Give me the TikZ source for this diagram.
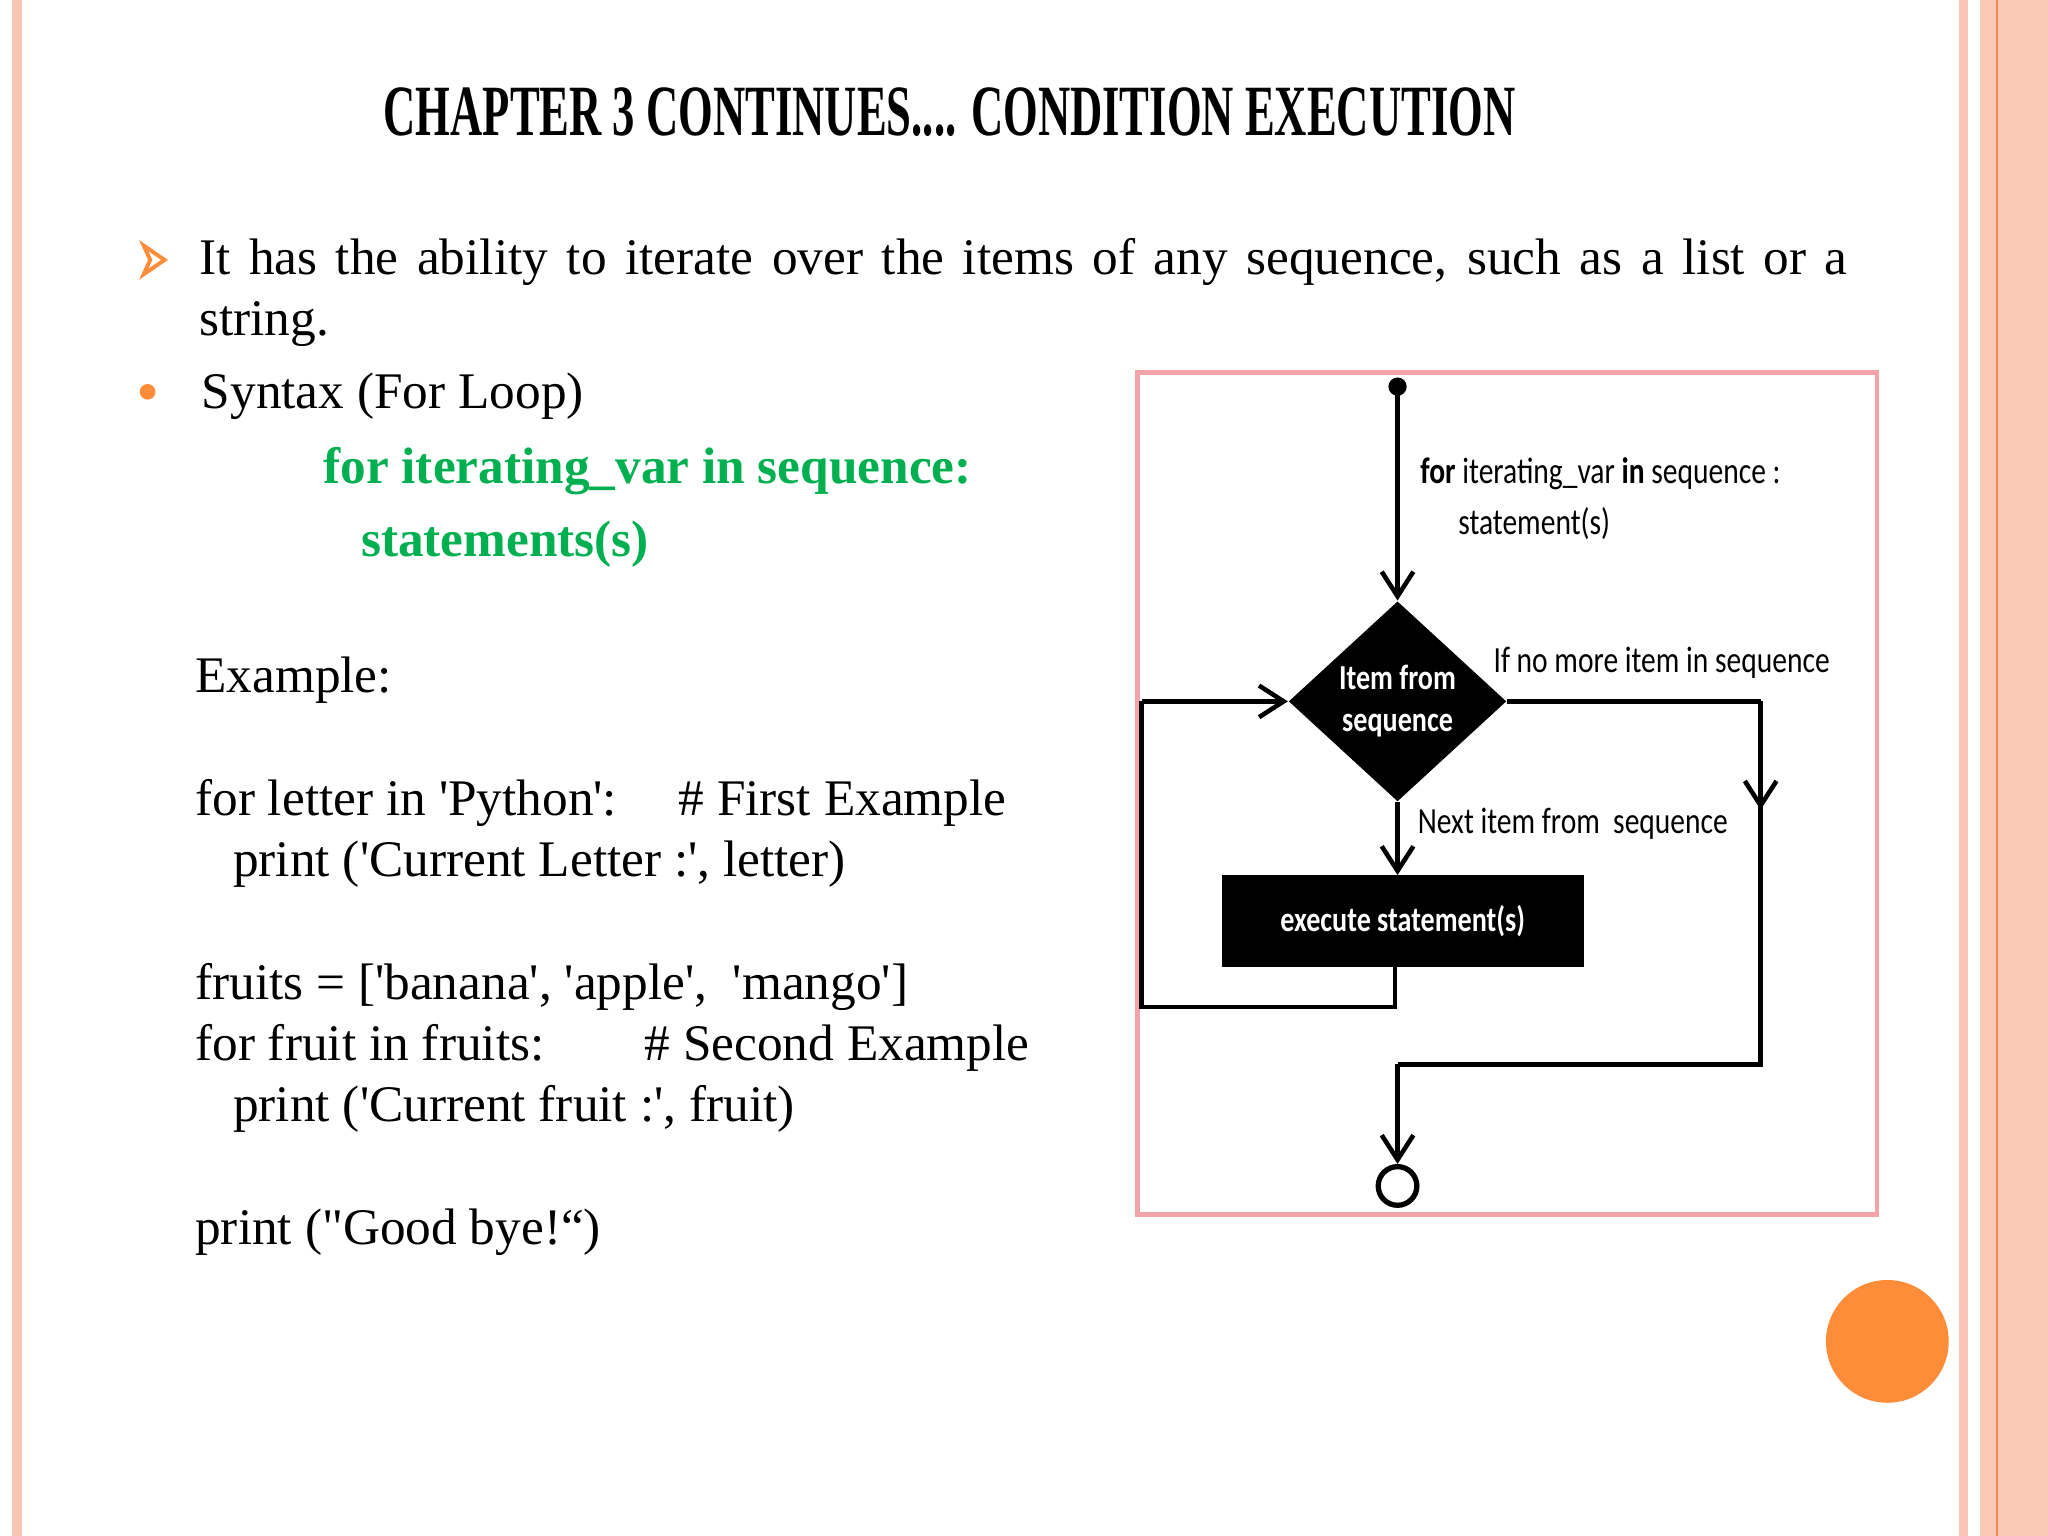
\documentclass[tikz,border=0pt]{standalone}
\usepackage{fontspec}
\setmainfont{Liberation Serif}
\newfontfamily\flowfont[FakeStretch=0.8]{Carlito}
\usetikzlibrary{arrows.meta,shapes.geometric}
\definecolor{pinkline}{HTML}{F8C4B4}
\definecolor{salmon}{HTML}{F9C9B6}
\definecolor{orangeline}{HTML}{F08A50}
\definecolor{boxpink}{HTML}{F4A3A8}
\definecolor{codegreen}{RGB}{0,176,80}
\definecolor{dotorange}{HTML}{FF8C38}
\newcommand{\q}{\textquotesingle}
\begin{document}
\begin{tikzpicture}[x=0.013061cm,y=-0.013061cm,
  body/.style={anchor=base west,inner sep=0pt,font=\fontsize{14.6}{17.4}\selectfont},
  code/.style={anchor=base west,inner sep=0pt,font=\fontsize{14.6}{17.4}\selectfont\bfseries,text=codegreen},
  flow/.style={line width=1.3pt,draw=black},
  arr/.style={flow,-{Straight Barb[length=7pt,width=9pt,line width=1.3pt]}},
  flab/.style={anchor=base west,inner sep=0pt,font=\flowfont\fontsize{10.5}{12}\selectfont}]
\useasboundingbox (0,0) rectangle (1568,1176);
\fill[white] (0,0) rectangle (1568,1176);
% borders
\fill[pinkline] (9,0) rectangle (17,1176);
\fill[pinkline] (1500,0) rectangle (1507,1176);
\fill[salmon] (1516,0) rectangle (1568,1176);
\draw[orangeline,line width=0.6pt] (1529,0) -- (1529,1176);
% title
\node[inner sep=0pt,anchor=base] (title) at (727,104) {\resizebox{322pt}{13.6pt}{\fontsize{20}{24}\selectfont\bfseries CHAPTER 3 CONTINUES.... CONDITION EXECUTION}};
% bullets
\draw[dotorange,line width=1.1pt,line join=miter] (110,188) -- (126,199) -- (110,210) -- (115,199) -- cycle;
\fill[dotorange] (113,300) circle (6);
\node[body,text width=469pt,align=justify] (t1) at (152,210) {It has the ability to iterate over the items of any sequence, such as a list or a\linebreak string.};
\node[body] (t2) at (154,313) {Syntax (For Loop)};
\node[code] (c1) at (247,370) {for iterating\_var in sequence:};
\node[code] (c2) at (276,426) {statements(s)};
\node[body] (e0) at (149,530) {Example:};
\node[body] (e1) at (149,624) {for letter in \q Python\q :};
\node[body] (e1c) at (519,624) {\# First Example};
\node[body] (e2) at (178,671) {print (\q Current Letter :\q , letter)};
\node[body] (e3) at (149,765) {fruits = [\q banana\q , \q apple\q ,\ \ \q mango\q ]};
\node[body] (e4) at (149,812) {for fruit in fruits:};
\node[body] (e4c) at (493,812) {\# Second Example};
\node[body] (e5) at (178,859) {print (\q Current fruit :\q , fruit)};
\node[body] (e6) at (149,953) {print (\textquotedbl Good bye!“)};
% flowchart frame
\draw[boxpink,line width=1.3pt] (871,285) rectangle (1437,930);
\fill (1070,296) circle (7);
\coordinate (start) at (1070,296);
\node[diamond,fill=black,inner sep=0pt,
  minimum width=62pt,minimum height=57pt,
  text=white,align=center,font=\flowfont\bfseries\fontsize{10}{12}\selectfont] (dec) at (1070,537) {Item from\\sequence};
\node[fill=black,minimum width=103pt,minimum height=26pt,inner sep=0pt,text=white,
  font=\flowfont\bfseries\fontsize{10}{12}\selectfont] (exec) at (1074,705) {execute statement(s)};
\node[draw=black,line width=1.5pt,circle,minimum size=11pt,inner sep=0pt,fill=white] (end) at (1070,908) {};
\draw[arr] (start) -- (dec.north);
\draw[arr] (dec.south) -- (1070,670);
\draw[flow] (1068,740) -- (1068,771) -- (874,771) -- (874,537);
\draw[arr] (874,537) -- (dec.west);
\draw[flow] (dec.east) -- (1348,537);
\draw[arr] (1348,537) -- (1348,620);
\draw[flow] (1348,612) -- (1348,815) -- (1070,815);
\draw[arr] (1070,815) -- (end.north);
\node[flab] (l1) at (1087,370) {\textbf{for} iterating\_var \textbf{in} sequence :};
\node[flab] (l2) at (1116,409) {statement(s)};
\node[flab] (l3) at (1143,515) {If no more item in sequence};
\node[flab] (l4) at (1085,638) {Next item from\ \ sequence};
% orange circle
\fill[dotorange] (1445,1027) circle (47);
\end{tikzpicture}
\end{document}
